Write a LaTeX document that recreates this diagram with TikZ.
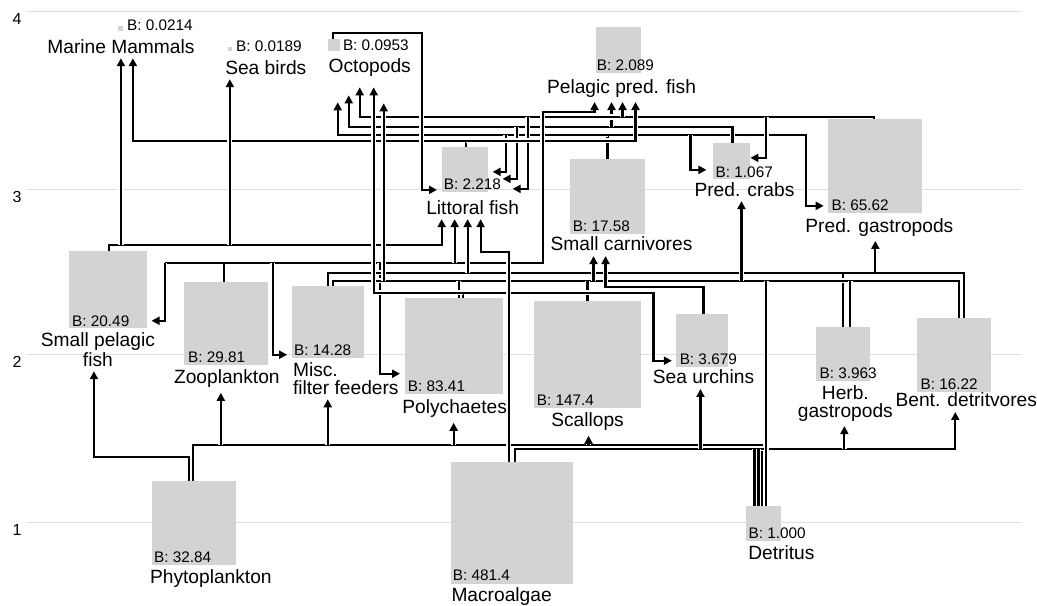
\documentclass[tikz,border=0pt]{standalone}
\usepackage{fontspec}
\setmainfont{Liberation Sans}
\usetikzlibrary{arrows.meta,backgrounds}
\pgfdeclarelayer{grid}
\pgfsetlayers{grid,background,main}
\definecolor{boxgray}{RGB}{211,211,211}
\definecolor{gridgray}{RGB}{221,221,221}

\begin{document}
\begin{tikzpicture}[
  x=0.75pt, y=-0.75pt,
  bx/.style={fill=boxgray, inner sep=0pt, outer sep=0pt, anchor=north west},
  nm/.style={font=\fontsize{14.4}{13}\selectfont, inner xsep=0pt, inner ysep=0pt, anchor=north, align=center},
  bl/.style={font=\fontsize{11.5}{12}\selectfont, inner sep=0pt, anchor=base west},
  axl/.style={font=\fontsize{12}{12}\selectfont, inner sep=0pt},
  gridln/.style={draw=gridgray, line width=0.75pt},
  fl/.style={draw, line width=1.6pt, preaction={draw=white, line width=3.9pt}},
  ar/.style={-{Triangle[length=6pt,width=6pt]}, shorten >=3.5pt},
  nt/.style={-, shorten >=0pt},
  vh/.style={to path={|- (\tikztotarget)}},
  hv/.style={to path={-| (\tikztotarget)}},
  every edge/.style={fl}
]
  \begin{pgfonlayer}{grid}
    \fill[white] (0,0) rectangle (1037,602);
    \useasboundingbox (0,0) rectangle (1037,602);
    \foreach \gy/\lv in {12/4,190/3,355/2,523/1}{
      \draw[gridln] (26,\gy) -- (1023,\gy);
      \node[axl] (ax\lv) at (17,\gy+7) {\lv};
    }
  \end{pgfonlayer}

  % biomass boxes
  \node[bx, minimum width=3.75pt, minimum height=3.75pt]  (mamm)   at (118.5,26) {};
  \node[bx, minimum width=3pt,    minimum height=3pt]     (birds)  at (228,47)  {};
  \node[bx, minimum width=9pt,    minimum height=9pt]     (octo)   at (328,39)  {};
  \node[bx, minimum width=33.75pt, minimum height=34.5pt] (ppf)    at (596,27)  {};
  \node[bx, minimum width=34.5pt, minimum height=33.75pt] (litt)   at (442,147) {};
  \node[bx, minimum width=27.75pt, minimum height=27pt]   (crabs)  at (714,143) {};
  \node[bx, minimum width=70.5pt, minimum height=70.5pt]  (pgast)  at (829,119) {};
  \node[bx, minimum width=56.25pt, minimum height=56.25pt] (smcarn) at (570,159) {};
  \node[bx, minimum width=58.5pt, minimum height=57.75pt] (spf)    at (69,251)  {};
  \node[bx, minimum width=63pt,   minimum height=62.25pt] (zoo)    at (184,282) {};
  \node[bx, minimum width=54pt,   minimum height=54pt]    (misc)   at (292,286) {};
  \node[bx, minimum width=73.5pt, minimum height=72pt]    (poly)   at (405,298) {};
  \node[bx, minimum width=80.25pt, minimum height=80.25pt] (scal)  at (534,301) {};
  \node[bx, minimum width=39pt,   minimum height=39.75pt] (urch)   at (677,314) {};
  \node[bx, minimum width=40.5pt, minimum height=40.5pt]  (herb)   at (817,327) {};
  \node[bx, minimum width=55.5pt, minimum height=55.5pt]  (bent)   at (918,318) {};
  \node[bx, minimum width=63pt,   minimum height=63pt]    (phyto)  at (152,481) {};
  \node[bx, minimum width=91.5pt, minimum height=91.5pt]  (macro)  at (451,462) {};
  \node[bx, minimum width=26.25pt, minimum height=26.25pt] (det)   at (747,506) {};

  % biomass values
  \node[bl] (mammB)   at (127,31)  {B: 0.0214};
  \node[bl] (birdsB)  at (236,52)  {B: 0.0189};
  \node[bl] (octoB)   at (343,51)  {B: 0.0953};
  \node[bl] (ppfB)    at (597,71)  {B: 2.089};
  \node[bl] (littB)   at (444,190) {B: 2.218};
  \node[bl] (crabsB)  at (716,178) {B: 1.067};
  \node[bl] (pgastB)  at (832,211) {B: 65.62};
  \node[bl] (smcarnB) at (573,232) {B: 17.58};
  \node[bl] (spfB)    at (72,327)  {B: 20.49};
  \node[bl] (zooB)    at (188,363) {B: 29.81};
  \node[bl] (miscB)   at (294,356) {B: 14.28};
  \node[bl] (polyB)   at (408,392) {B: 83.41};
  \node[bl] (scalB)   at (537,406) {B: 147.4};
  \node[bl] (urchB)   at (680,365) {B: 3.679};
  \node[bl] (herbB)   at (820,379) {B: 3.963};
  \node[bl] (bentB)   at (921,390) {B: 16.22};
  \node[bl] (phytoB)  at (154,563) {B: 32.84};
  \node[bl] (macroB)  at (453,581) {B: 481.4};
  \node[bl] (detB)    at (749,539) {B: 1.000};

  % group names
  \node[nm] (mammL)   at (121,39)  {Marine Mammals};
  \node[nm] (birdsL)  at (266,60)  {Sea birds};
  \node[nm] (octoL)   at (370,58)  {Octopods};
  \node[nm] (ppfL)    at (622,79)  {Pelagic pred. fish};
  \node[nm] (littL)   at (473,200) {Littoral fish};
  \node[nm] (crabsL)  at (745,182) {Pred. crabs};
  \node[nm] (pgastL)  at (880,218) {Pred. gastropods};
  \node[nm] (smcarnL) at (622,237) {Small carnivores};
  \node[nm] (spfL)    at (98,333)  {Small pelagic\\fish};
  \node[nm] (zooL)    at (227,370) {Zooplankton};
  \node[nm, anchor=north west, align=left] (miscL) at (293,363) {Misc.\\filter feeders};
  \node[nm] (polyL)   at (455,400) {Polychaetes};
  \node[nm] (scalL)   at (588,413) {Scallops};
  \node[nm] (urchL)   at (704,370) {Sea urchins};
  \node[nm] (herbL)   at (846,386) {Herb.\\gastropods};
  \node[nm] (bentL)   at (967,393) {Bent. detritvores};
  \node[nm] (phytoL)  at (211,570) {Phytoplankton};
  \node[nm] (macroL)  at (502,588) {Macroalgae};
  \node[nm] (detL)    at (782,546) {Detritus};

  \begin{scope}[on background layer]
    % primary producers
    \draw[fl,ar] (phyto.north -| 189,0) |- (94,457) -- (spfL.south -| 94,0);
    \draw[fl] (221,445) edge[ar] (zooL.south -| 221,0)
      (328,445) edge[ar] (miscL.south -| 328,0)
      (454,445) edge[ar] (polyL.south -| 454,0)
      (589,445) edge[ar] (scalL.south -| 589,0)
      (phyto.north -| 193,0) |- (763,445) -- (det.north -| 763,0);
    \draw[fl,ar] (701,449) edge[ar] (urchL.south -| 701,0)
      (845,449) edge[ar] (herbL.south -| 845,0)
      (755,449) edge[nt] (det.north -| 755,0)
      (759,449) edge[nt] (det.north -| 759,0)
      (macro.north -| 515,0) |- (956,449) -- (bentL.south -| 956,0);

    % upper lanes
    \draw[fl,ar] (608,135) edge[hv,ar,shorten >=19.5pt] (octoL.south -| 338,0)
      (506,135) edge[vh,ar,shorten >=3.75pt] (litt.east |- 0,172)
      (691,135) edge[vh,ar,shorten >=5.25pt] (crabs.west |- 0,170)
      (smcarn.north -| 608,0) |- (807,135) |- (pgast.west |- 0,206);
    \draw[fl,ar,shorten >=14.25pt] (612,127) edge[ar] (ppfL.south -| 612,0)
      (517,127) edge[vh,ar,shorten >=11.25pt] (litt.east |- 0,179)
      (crabs.north -| 733,0) |- (349,127) -- (octoL.south -| 349,0);
    \draw[fl,ar,shorten >=8.25pt] (623,117) edge[ar] (ppfL.south -| 623,0)
      (767,117) edge[vh,ar,shorten >=0pt] (crabs.east |- 0,158)
      (528,117) edge[vh,ar,shorten >=18.75pt] (litt.east |- 0,189)
      (pgast.north -| 875,0) |- (360,117) -- (octoL.south -| 360,0);
    \draw[fl,ar] (466,141) edge[hv,ar] (ppfL.south -| 636,0)
      (litt.north -| 466,0) |- (133,141) -- (mammL.south -| 133,0);
    \draw[fl,ar] (octo.north -| 333,0) |- (422,33) |- (litt.west |- 0,190);

    % middle lanes
    \draw[fl,ar] (121,245) edge[ar] (mammL.south -| 121,0)
      (230,245) edge[ar] (birdsL.south -| 230,0)
      (spf.north -| 109,0) |- (442,245) -- (littL.south -| 442,0);
    \draw[fl,ar] (224,263) -- (165,263)
      (165,263) edge[vh,ar] (spf.east |- 0,321)
      (273,263) edge[vh,ar] (misc.west |- 0,355)
      (380,263) edge[vh,ar] (poly.west |- 0,374)
      (455,263) edge[ar] (littL.south -| 455,0)
      (zoo.north -| 224,0) |- (543,263) |- (595,112) -- (ppfL.south -| 595,0);
    \draw[fl,ar] (herb.north -| 844,0) -- (844,273)
      (bent.north -| 965,0) |- (876,273)
      (468,273) edge[ar] (littL.south -| 468,0)
      (misc.north -| 328,0) |- (876,273) -- (pgastL.south -| 876,0);
    \draw[fl] (misc.north -| 333,0) |- (960,281) -- (bent.north -| 960,0)
      (384,281) edge[ar,shorten >=20.25pt] (octoL.south -| 384,0)
      (594,281) edge[ar] (smcarnL.south -| 594,0)
      (742,281) edge[ar] (crabsL.south -| 742,0)
      (459,281) edge[nt] (poly.north -| 459,0)
      (588,281) edge[nt] (scal.north -| 588,0)
      (767,281) edge[nt] (det.north -| 767,0)
      (851,281) edge[nt] (herb.north -| 851,0);
    \draw[fl,ar] (urch.north -| 704,0) |- (606,287) -- (smcarnL.south -| 606,0);
    \draw[fl,ar] (463,293) edge[hv,ar,shorten >=8.25pt] (octoL.south -| 374,0)
      (poly.north -| 463,0) |- (654,293) |- (urch.west |- 0,361);
    \draw[fl,ar] (macro.north -| 509,0) |- (481,252) -- (littL.south -| 481,0);
  \end{scope}
\end{tikzpicture}
\end{document}
